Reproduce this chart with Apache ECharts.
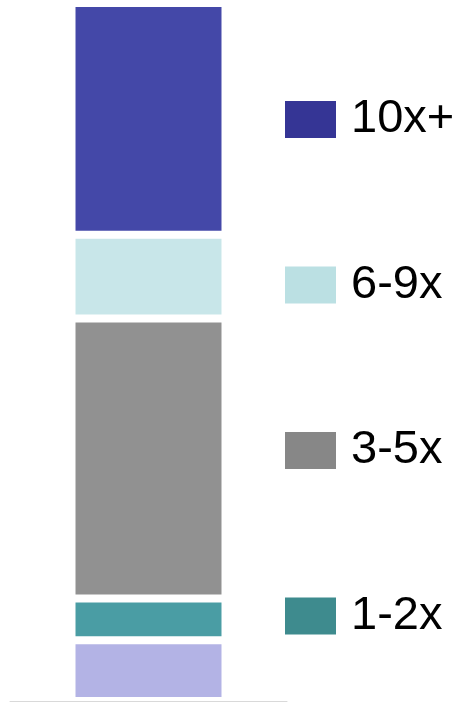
<!DOCTYPE html>
<html>
<head>
<meta charset="utf-8">
<script src="https://cdn.jsdelivr.net/npm/echarts@6/dist/echarts.min.js"></script>
<style>
html,body{margin:0;padding:0;background:#fff;}
#chart{width:459px;height:702px;}
</style>
</head>
<body>
<div id="chart"></div>
<script>
// Data (percent share), stacked bottom to top
const categories = ['All'];
const seriesNames = ['<1x', '1-2x', '3-5x', '6-9x', '10x+'];
const seriesValues = [8.7, 6.0, 40.1, 12.0, 33.2];
const barColors = ['#B3B3E5', '#4A9DA4', '#919191', '#C8E6E9', '#4448A8'];
const legendNames = ['10x+', '6-9x', '3-5x', '1-2x'];
const legendColors = ['#353595', '#BBE0E3', '#878787', '#3E8B8E'];

const chart = echarts.init(document.getElementById('chart'));
chart.setOption({
  animation: false,
  grid: { left: 10, right: 172, top: 3, bottom: 1 },
  xAxis: {
    type: 'category',
    data: categories,
    z: 10,
    axisLine: { show: true, lineStyle: { color: '#d9d9d9', width: 1 } },
    axisTick: { show: false },
    axisLabel: { show: false }
  },
  yAxis: {
    type: 'value', min: 0, max: 100, show: false,
    splitLine: { show: false }
  },
  legend: {
    orient: 'vertical',
    left: 285,
    top: 96,
    padding: 0,
    icon: 'rect',
    itemWidth: 51,
    itemHeight: 37,
    itemGap: 118.5,
    itemStyle: { borderWidth: 0 },
    textStyle: {
      fontSize: 47,
      color: '#000',
      fontFamily: '"Liberation Sans", Arial, sans-serif',
      padding: [0, 0, 0, 10]
    },
    data: legendNames.map((n, i) => ({ name: n, itemStyle: { color: legendColors[i], borderWidth: 0 } }))
  },
  series: seriesNames.map((n, i) => ({
    name: n,
    type: 'bar',
    stack: 'total',
    barWidth: 154,
    data: [seriesValues[i]],
    itemStyle: { color: barColors[i], borderColor: '#fff', borderWidth: 4 }
  }))
});
</script>
</body>
</html>
